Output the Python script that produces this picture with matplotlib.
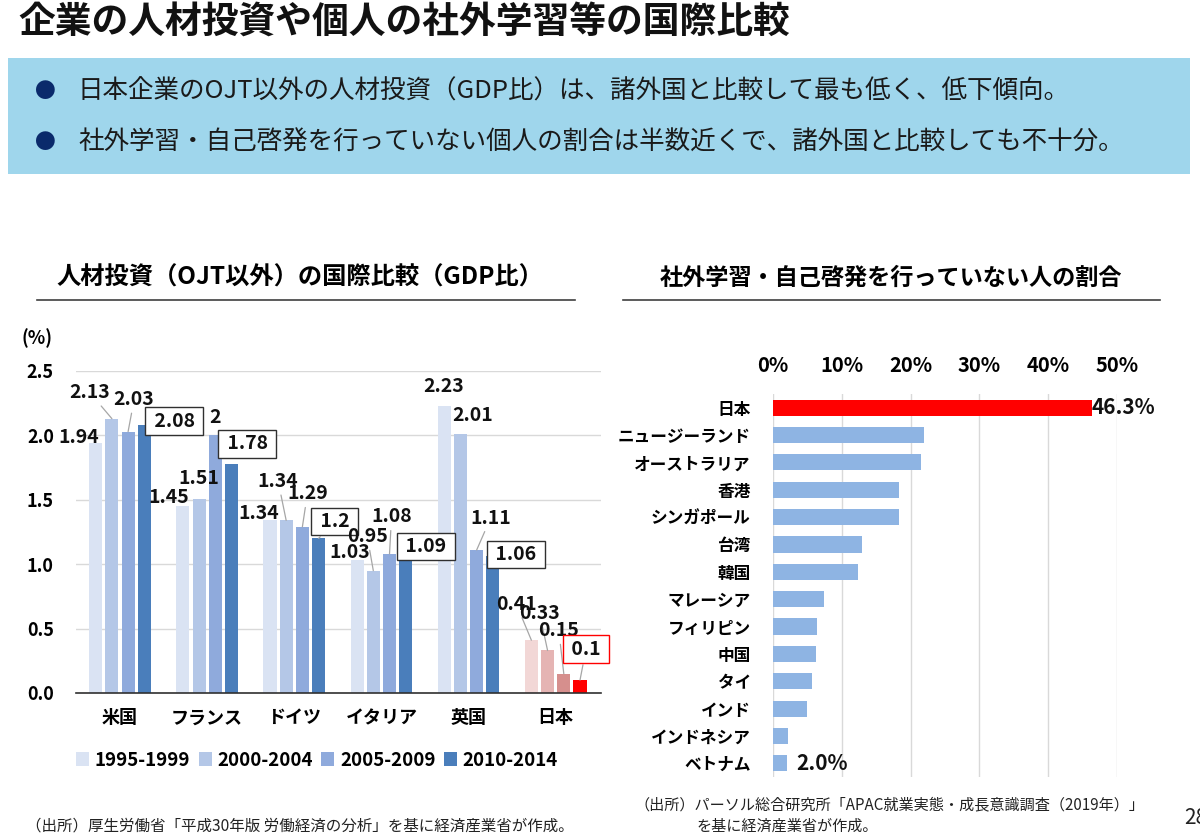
import numpy as np
import matplotlib.pyplot as plt
from matplotlib.patches import Rectangle
from matplotlib.lines import Line2D

plt.rcParams['font.family'] = ['Noto Sans CJK JP', 'DejaVu Sans']

# left chart data
countries = ['米国', 'フランス', 'ドイツ', 'イタリア', '英国', '日本']
periods = ['1995-1999', '2000-2004', '2005-2009', '2010-2014']
v_1995 = [1.94, 1.45, 1.34, 1.03, 2.23, 0.41]
v_2000 = [2.13, 1.51, 1.34, 0.95, 2.01, 0.33]
v_2005 = [2.03, 2.00, 1.29, 1.08, 1.11, 0.15]
v_2010 = [2.08, 1.78, 1.20, 1.09, 1.06, 0.10]
label_text = [['1.94', '2.13', '2.03', '2.08'],
              ['1.45', '1.51', '2', '1.78'],
              ['1.34', '1.34', '1.29', '1.2'],
              ['1.03', '0.95', '1.08', '1.09'],
              ['2.23', '2.01', '1.11', '1.06'],
              ['0.41', '0.33', '0.15', '0.1']]

# right chart data
regions = ['日本', 'ニュージーランド', 'オーストラリア', '香港', 'シンガポール', '台湾', '韓国',
           'マレーシア', 'フィリピン', '中国', 'タイ', 'インド', 'インドネシア', 'ベトナム']
not_learning = [46.3, 22.0, 21.5, 18.3, 18.3, 13.0, 12.3, 7.4, 6.4, 6.3, 5.7, 4.9, 2.2, 2.0]

W, H = 1200, 839
fig = plt.figure(figsize=(12, 8.39), dpi=100)


def fx(x):
    return x / W


def fy(y):
    return 1 - y / H


# header
fig.text(fx(18), fy(22), '企業の人材投資や個人の社外学習等の国際比較', fontsize=26.5,
         fontweight='bold', va='center', ha='left', color='#111111')
fig.patches.append(Rectangle((fx(8), fy(174)), fx(1182), (174 - 58) / H,
                             transform=fig.transFigure, fc='#9fd6ec', ec='none'))
bullets = ['日本企業のOJT以外の人材投資（GDP比）は、諸外国と比較して最も低く、低下傾向。',
           '社外学習・自己啓発を行っていない個人の割合は半数近くで、諸外国と比較しても不十分。']
for yy, t in zip([92, 143], bullets):
    fig.text(fx(45), fy(yy), '●', fontsize=15, color='#0a2a6b', ha='center', va='center')
    fig.text(fx(78), fy(yy), t, fontsize=18.4, color='#1a1a1a', ha='left', va='center')

# sub titles with underline
fig.text(fx(300), fy(278), '人材投資（OJT以外）の国際比較（GDP比）', fontsize=17.5,
         fontweight='bold', ha='center', va='center')
fig.text(fx(891), fy(278), '社外学習・自己啓発を行っていない人の割合', fontsize=16.7,
         fontweight='bold', ha='center', va='center')
fig.add_artist(Line2D([fx(37), fx(575)], [fy(300), fy(300)], color='#404040', lw=1.2))
fig.add_artist(Line2D([fx(623), fx(1160)], [fy(300), fy(300)], color='#404040', lw=1.2))

# ---- left chart ----
ax = fig.add_axes([fx(76), fy(693), 525 / W, 322 / H])
colors = ['#dae3f3', '#b4c7e7', '#8faadc', '#4a7ebb']
jp_colors = ['#f2d7d6', '#e5b4b3', '#d68f8d', '#ff0000']
x = np.arange(len(countries))
bw = 0.15
pitch = 0.186
series = [v_1995, v_2000, v_2005, v_2010]
containers = []
for i, vals in enumerate(series):
    off = (i - 1.5) * pitch
    bc = ax.bar(x + off, vals, width=bw, color=colors[i], label=periods[i], zorder=2)
    bc.patches[-1].set_facecolor(jp_colors[i])
    containers.append(bc)

# label offsets (pixels from bar top) and leader flags
offsets = [[(-17, 6), (-22, 26), (6, 32), (30, 4)],
           [(-14, 9), (0, 20), (0, 18), (16, 20)],
           [(-11, 7), (-8, 39), (5, 33), (16, 17)],
           [(-7, 8), (-6, 34), (2, 37), (20, 6)],
           [(-1, 19), (12, 19), (14, 32), (23, 2)],
           [(-15, 36), (-8, 37), (-5, 43), (6, 31)]]
leaders = [[0, 1, 1, 0], [0, 0, 0, 0], [0, 1, 1, 1],
           [0, 1, 1, 0], [0, 0, 1, 0], [1, 1, 1, 1]]
for ci in range(len(countries)):
    for si in range(4):
        bar = containers[si].patches[ci]
        bx = bar.get_x() + bar.get_width() / 2
        by = bar.get_height()
        txt = label_text[ci][si]
        kw = dict(textcoords='offset pixels', ha='center', va='center',
                  fontsize=14, fontweight='bold', color='#111111', zorder=5)
        if si == 3:
            ec = '#ff0000' if ci == len(countries) - 1 else '#303030'
            txt = ' ' + txt + ' '
            kw['bbox'] = dict(boxstyle='square,pad=0.22', fc='white', ec=ec, lw=1)
        if leaders[ci][si]:
            kw['arrowprops'] = dict(arrowstyle='-', color='#a6a6a6', lw=0.9,
                                    shrinkA=1, shrinkB=0)
        ax.annotate(txt, (bx, by), xytext=offsets[ci][si], **kw)

ax.set_xlim(-0.505, 5.52)
ax.set_ylim(0, 2.5)
ax.set_yticks(np.arange(0, 2.51, 0.5))
ax.set_yticklabels(['%.1f' % v for v in np.arange(0, 2.51, 0.5)], fontsize=13,
                   fontweight='bold')
ax.set_xticks(x)
ax.set_xticklabels(countries, fontsize=13, fontweight='bold')
ax.tick_params(axis='y', length=0, pad=16)
ax.tick_params(axis='x', length=0, pad=11)
ax.grid(axis='y', color='#d9d9d9', lw=1, zorder=0)
for s in ['left', 'right', 'top']:
    ax.spines[s].set_visible(False)
ax.spines['bottom'].set_color('#303030')
ax.spines['bottom'].set_linewidth(1.2)
ax.spines['bottom'].set_zorder(3)
fig.text(fx(37), fy(338), '(%)', fontsize=13, fontweight='bold', ha='center', va='center')

ax.legend(loc='center', bbox_to_anchor=(fx(317), fy(760)), bbox_transform=fig.transFigure,
          ncol=4, frameon=False, prop={'weight': 'bold', 'size': 13.5},
          handlelength=0.7, handleheight=0.7, handletextpad=0.3, columnspacing=0.45)

# ---- right chart ----
ax2 = fig.add_axes([fx(773), fy(777), 344 / W, 383 / H])
y = np.arange(len(regions))
bar_colors = ['#ff0000'] + ['#8eb4e3'] * (len(regions) - 1)
bars2 = ax2.barh(y, not_learning, height=0.59, color=bar_colors, zorder=2)
ax2.set_xlim(0, 50)
ax2.set_ylim(len(regions) - 0.5, -0.5)
ax2.set_xticks(np.arange(0, 51, 10))
ax2.set_xticklabels(['%d%%' % v for v in range(0, 51, 10)], fontsize=14.5, fontweight='bold')
ax2.xaxis.tick_top()
ax2.tick_params(axis='x', length=0, pad=13)
ax2.set_yticks(y)
ax2.set_yticklabels(regions, fontsize=12, fontweight='bold')
ax2.tick_params(axis='y', length=0, pad=16)
ax2.grid(axis='x', color='#d9d9d9', lw=1, zorder=0)
for s in ax2.spines.values():
    s.set_visible(False)
for i in [0, len(regions) - 1]:
    b = bars2.patches[i]
    gap = 0 if i == 0 else 10
    ax2.annotate('%.1f%%' % not_learning[i], (b.get_width(), b.get_y() + b.get_height() / 2),
                 xytext=(gap, 0), textcoords='offset pixels', ha='left', va='center',
                 fontsize=15, fontweight='bold', color='#111111', zorder=5)

# footers
fig.text(fx(26), fy(826), '（出所）厚生労働省「平成30年版 労働経済の分析」を基に経済産業省が作成。',
         fontsize=11.2, ha='left', va='center', color='#222222')
fig.text(fx(634), fy(805), '（出所）パーソル総合研究所「APAC就業実態・成長意識調査（2019年）」',
         fontsize=10.9, ha='left', va='center', color='#222222')
fig.text(fx(697), fy(826), 'を基に経済産業省が作成。', fontsize=10.9, ha='left', va='center',
         color='#222222')
fig.text(fx(1184), fy(818), '28', fontsize=15, ha='left', va='center', color='#222222')

fig.savefig('out.png', dpi=100)
